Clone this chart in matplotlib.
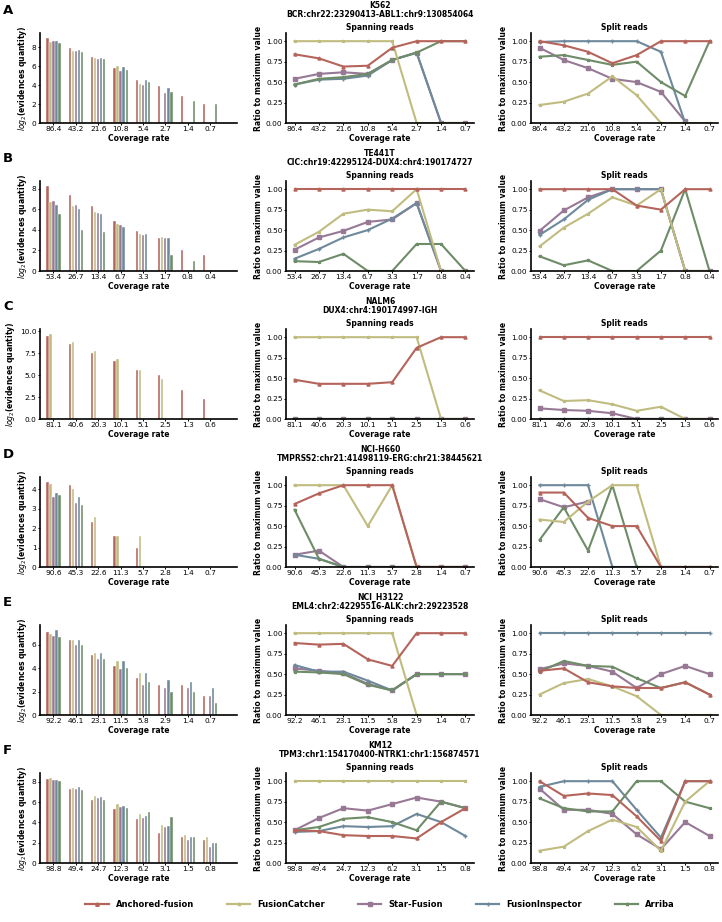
import numpy as np
import matplotlib
matplotlib.use("Agg")
import matplotlib.pyplot as plt
from matplotlib.lines import Line2D

nan = np.nan

tools = ["Anchored-fusion", "FusionCatcher", "Star-Fusion", "FusionInspector", "Arriba"]
colors = ["#b5645b", "#c0bc80", "#977996", "#6e899b", "#6d8c67"]
markers = ["^", "*", "s", "+", "*"]

panel_letters = ["A", "B", "C", "D", "E", "F"]
cell_lines = ["K562", "TE441T", "NALM6", "NCI-H660", "NCI_H3122", "KM12"]
fusions = ["BCR:chr22:23290413-ABL1:chr9:130854064",
           "CIC:chr19:42295124-DUX4:chr4:190174727",
           "DUX4:chr4:190174997-IGH",
           "TMPRSS2:chr21:41498119-ERG:chr21:38445621",
           "EML4:chr2:42295516-ALK:chr2:29223528",
           "TPM3:chr1:154170400-NTRK1:chr1:156874571"]

coverage_A = ["86.4", "43.2", "21.6", "10.8", "5.4", "2.7", "1.4", "0.7"]
coverage_B = ["53.4", "26.7", "13.4", "6.7", "3.3", "1.7", "0.8", "0.4"]
coverage_C = ["81.1", "40.6", "20.3", "10.1", "5.1", "2.5", "1.3", "0.6"]
coverage_D = ["90.6", "45.3", "22.6", "11.3", "5.7", "2.8", "1.4", "0.7"]
coverage_E = ["92.2", "46.1", "23.1", "11.5", "5.8", "2.9", "1.4", "0.7"]
coverage_F = ["98.8", "49.4", "24.7", "12.3", "6.2", "3.1", "1.5", "0.8"]

# log2(evidences quantity), one row per tool (same order as tools)
bars_A = [[9.0, 7.9, 7.0, 5.8, 4.5, 3.9, 2.8, 2.0],
          [8.5, 7.6, 6.9, 6.0, 4.1, 0, 0, 0],
          [8.6, 7.6, 6.7, 5.5, 4.0, 3.2, 0, 0],
          [8.6, 7.7, 6.9, 5.9, 4.5, 3.7, 0, 0],
          [8.4, 7.5, 6.7, 5.6, 4.3, 3.3, 2.3, 2.0]]
bars_B = [[8.3, 7.4, 6.3, 4.9, 3.9, 3.2, 2.0, 1.6],
          [6.7, 6.3, 5.7, 4.6, 3.6, 3.3, 0, 0],
          [6.8, 6.4, 5.6, 4.5, 3.5, 3.2, 0, 0],
          [6.4, 6.0, 5.5, 4.3, 3.6, 3.2, 0, 0],
          [5.5, 4.0, 3.8, 0, 0, 1.6, 1.0, 0]]
bars_C = [[9.4, 8.5, 7.5, 6.6, 5.6, 5.0, 3.3, 2.3],
          [9.7, 8.7, 7.7, 6.8, 5.6, 4.6, 0, 0],
          [0, 0, 0, 0, 0, 0, 0, 0],
          [0, 0, 0, 0, 0, 0, 0, 0],
          [0, 0, 0, 0, 0, 0, 0, 0]]
bars_D = [[4.4, 4.25, 2.3, 1.6, 1.0, 0, 0, 0],
          [4.3, 4.0, 2.6, 1.6, 1.6, 0, 0, 0],
          [3.6, 3.3, 0, 0, 0, 0, 0, 0],
          [3.8, 3.6, 0, 0, 0, 0, 0, 0],
          [3.7, 3.2, 0, 0, 0, 0, 0, 0]]
bars_E = [[7.1, 6.4, 5.1, 4.2, 3.2, 2.6, 2.6, 1.6],
          [6.9, 6.4, 5.3, 4.6, 3.6, 0, 0, 0],
          [6.8, 6.0, 4.8, 3.9, 2.6, 2.3, 2.3, 1.6],
          [7.3, 6.4, 5.3, 4.6, 3.6, 3.0, 2.8, 2.3],
          [6.7, 6.0, 4.8, 4.0, 2.8, 2.0, 2.0, 1.0]]
bars_F = [[8.3, 7.3, 6.2, 5.3, 4.3, 3.0, 2.6, 2.3],
          [8.4, 7.4, 6.6, 5.8, 4.8, 3.7, 2.8, 2.6],
          [8.2, 7.3, 6.4, 5.5, 4.4, 3.5, 2.3, 1.6],
          [8.2, 7.5, 6.5, 5.6, 4.6, 3.6, 2.6, 2.0],
          [8.1, 7.2, 6.2, 5.4, 5.0, 4.5, 2.6, 2.0]]

yticks_A = [0, 2, 4, 6, 8]
yticks_B = [0, 2, 4, 6, 8]
yticks_C = [0, 2.5, 5, 7.5, 10]
yticks_D = [0, 1, 2, 3, 4]
yticks_E = [0, 2, 4, 6]
yticks_F = [0, 2, 4, 6, 8]

# ratio to maximum value, spanning reads
span_A = [[0.84, 0.79, 0.69, 0.70, 0.92, 1.0, 1.0, 1.0],
          [1.0, 1.0, 1.0, 1.0, 1.0, 0, 0, 0],
          [0.54, 0.60, 0.62, 0.60, 0.77, 0.86, 0, 0],
          [0.47, 0.53, 0.54, 0.58, 0.77, 0.86, 0, 0],
          [0.47, 0.54, 0.56, 0.60, 0.77, 0.86, 1.0, 1.0]]
span_B = [[1.0, 1.0, 1.0, 1.0, 1.0, 1.0, 1.0, 1.0],
          [0.32, 0.48, 0.70, 0.75, 0.73, 1.0, 0, 0],
          [0.26, 0.41, 0.49, 0.60, 0.63, 0.83, 0, 0],
          [0.15, 0.27, 0.41, 0.50, 0.64, 0.83, 0, 0],
          [0.12, 0.11, 0.21, 0, 0, 0.33, 0.33, 0]]
span_C = [[0.48, 0.43, 0.43, 0.43, 0.45, 0.87, 1.0, 1.0],
          [1.0, 1.0, 1.0, 1.0, 1.0, 1.0, 0, 0],
          [0, 0, 0, 0, 0, 0, 0, 0],
          [0, 0, 0, 0, 0, 0, 0, 0],
          [0, 0, 0, 0, 0, 0, 0, 0]]
span_D = [[0.77, 0.90, 1.0, 1.0, 1.0, 0, 0, 0],
          [1.0, 1.0, 1.0, 0.50, 1.0, 0, 0, 0],
          [0.15, 0.20, 0, 0, 0, 0, 0, 0],
          [0.15, 0.10, 0, 0, 0, 0, 0, 0],
          [0.70, 0.10, 0, 0, 0, 0, 0, 0]]
span_E = [[0.88, 0.86, 0.87, 0.68, 0.60, 1.0, 1.0, 1.0],
          [1.0, 1.0, 1.0, 1.0, 1.0, 0, 0, 0],
          [0.57, 0.54, 0.51, 0.38, 0.30, 0.50, 0.50, 0.50],
          [0.61, 0.53, 0.53, 0.42, 0.30, 0.50, 0.50, 0.50],
          [0.53, 0.52, 0.50, 0.37, 0.30, 0.50, 0.50, 0.50]]
span_F = [[0.40, 0.39, 0.34, 0.33, 0.33, 0.30, 0.50, 0.67],
          [1.0, 1.0, 1.0, 1.0, 1.0, 1.0, 1.0, 1.0],
          [0.40, 0.55, 0.67, 0.64, 0.72, 0.80, 0.75, 0.67],
          [0.38, 0.39, 0.45, 0.44, 0.45, 0.60, 0.50, 0.33],
          [0.40, 0.44, 0.54, 0.56, 0.50, 0.40, 0.75, 0.67]]

# ratio to maximum value, split reads
split_A = [[1.0, 0.95, 0.87, 0.73, 0.83, 1.0, 1.0, 1.0],
           [0.22, 0.26, 0.36, 0.57, 0.34, 0, 0, 0],
           [0.92, 0.77, 0.67, 0.54, 0.50, 0.38, 0.02, nan],
           [0.99, 1.0, 1.0, 1.0, 1.0, 0.87, 0, nan],
           [0.81, 0.83, 0.77, 0.71, 0.75, 0.50, 0.33, 1.0]]
split_B = [[1.0, 1.0, 1.0, 1.0, 0.80, 0.75, 1.0, 1.0],
           [0.30, 0.53, 0.70, 0.90, 0.80, 1.0, 0, 0],
           [0.49, 0.74, 0.90, 1.0, 1.0, 1.0, 0, 0],
           [0.44, 0.63, 0.87, 1.0, 1.0, 1.0, 0, 0],
           [0.18, 0.07, 0.13, 0, 0, 0.25, 1.0, 0]]
split_C = [[1.0, 1.0, 1.0, 1.0, 1.0, 1.0, 1.0, 1.0],
           [0.35, 0.22, 0.23, 0.18, 0.10, 0.15, 0, 0],
           [0.13, 0.11, 0.10, 0.07, 0, 0, 0, 0],
           [0, 0, 0, 0, 0, 0, 0, 0],
           [0, 0, 0, 0, 0, 0, 0, 0]]
split_D = [[0.91, 0.91, 0.60, 0.50, 0.50, 0, 0, 0],
           [0.58, 0.55, 0.80, 1.0, 1.0, 0, 0, 0],
           [0.83, 0.73, 0.80, nan, nan, nan, nan, nan],
           [1.0, 1.0, 1.0, 0, 0, 0, 0, 0],
           [0.33, 0.73, 0.20, 1.0, 0, 0, 0, 0]]
split_E = [[0.54, 0.57, 0.40, 0.35, 0.33, 0.33, 0.40, 0.25],
           [0.25, 0.39, 0.44, 0.35, 0.23, 0, 0, 0],
           [0.56, 0.63, 0.60, 0.53, 0.33, 0.50, 0.60, 0.50],
           [1.0, 1.0, 1.0, 1.0, 1.0, 1.0, 1.0, 1.0],
           [0.53, 0.66, 0.60, 0.59, 0.45, 0.33, 0.40, 0.25]]
split_F = [[1.0, 0.82, 0.85, 0.83, 0.57, 0.27, 1.0, 1.0],
           [0.15, 0.20, 0.39, 0.53, 0.44, 0.15, 0.75, 1.0],
           [0.91, 0.65, 0.65, 0.60, 0.35, 0.17, 0.50, 0.33],
           [0.93, 1.0, 1.0, 1.0, 0.65, 0.31, 1.0, 1.0],
           [0.79, 0.67, 0.63, 0.63, 1.0, 1.0, 0.75, 0.67]]

coverages = [coverage_A, coverage_B, coverage_C, coverage_D, coverage_E, coverage_F]
bars = [bars_A, bars_B, bars_C, bars_D, bars_E, bars_F]
yticks = [yticks_A, yticks_B, yticks_C, yticks_D, yticks_E, yticks_F]
spans = [span_A, span_B, span_C, span_D, span_E, span_F]
splits = [split_A, split_B, split_C, split_D, split_E, split_F]

W, H = 722, 922
fig = plt.figure(figsize=(W / 100, H / 100), dpi=100)

def style_axis(ax):
    for s in ["top", "right"]:
        ax.spines[s].set_visible(False)
    for s in ["left", "bottom"]:
        ax.spines[s].set_linewidth(1.2)
    ax.tick_params(labelsize=5.3, length=1.5, width=0.7, pad=1)

def px_axes(x0, x1, ytop, ybot):
    return fig.add_axes([x0 / W, 1 - ybot / H, (x1 - x0) / W, (ybot - ytop) / H])

line_order = [2, 3, 4, 1, 0]
row_step = 148
lab = dict(fontsize=5.5, fontweight="bold")

for r in range(6):
    ytop = 33 + r * row_step
    ybot = 123 + r * row_step
    x = np.arange(8)

    # bars
    ax = px_axes(40, 237, ytop, ybot)
    for i in range(5):
        ax.bar(x + (i - 2) * 0.135, bars[r][i], 0.1, color=colors[i],
               edgecolor="white", linewidth=0.3)
    ax.set_xticks(x)
    ax.set_xticklabels(coverages[r])
    ax.set_yticks(yticks[r])
    ax.set_xlim(-0.6, 8.2)
    ax.set_ylim(0, max(max(v) for v in bars[r]) * 1.055)
    ax.set_xlabel("Coverage rate", labelpad=1, **lab)
    ax.set_ylabel(r"$\mathit{log_2}$(evidences quantity)", labelpad=2, **lab)
    style_axis(ax)

    # line panels
    for data, x0, x1, title in [(spans[r], 286, 474, "Spanning reads"),
                                (splits[r], 531, 718, "Split reads")]:
        ax = px_axes(x0, x1, ytop, ybot)
        for i in line_order:
            ax.plot(x, data[i], color=colors[i], marker=markers[i], ms=2.2,
                    lw=1.5)
        ax.set_xticks(x)
        ax.set_xticklabels(coverages[r])
        ax.set_yticks([0, 0.25, 0.5, 0.75, 1.0])
        ax.set_xlim(-0.35, 7.35)
        ax.set_ylim(0, 1.1)
        ax.set_title(title, pad=2, **lab)
        ax.set_xlabel("Coverage rate", labelpad=1, **lab)
        ax.set_ylabel("Ratio to maximum value", labelpad=2, **lab)
        style_axis(ax)

    fig.text(380 / W, 1 - (10 + r * row_step) / H,
             cell_lines[r] + "\n" + fusions[r], ha="center", va="center",
             linespacing=1.1, **lab)
    fig.text(3 / W, 1 - (10 + r * row_step) / H, panel_letters[r],
             ha="left", va="center", fontsize=9.5, fontweight="bold")

handles = [Line2D([], [], color=colors[i], marker=markers[i], ms=2.5, lw=1.6)
           for i in range(5)]
fig.legend(handles, tools, loc="center", bbox_to_anchor=(380 / W, 1 - 904 / H),
           ncol=5, frameon=False, handlelength=2.8, columnspacing=4.0,
           handletextpad=0.8, prop={"size": 6, "weight": "bold"})

fig.savefig("out.png", dpi=100)
